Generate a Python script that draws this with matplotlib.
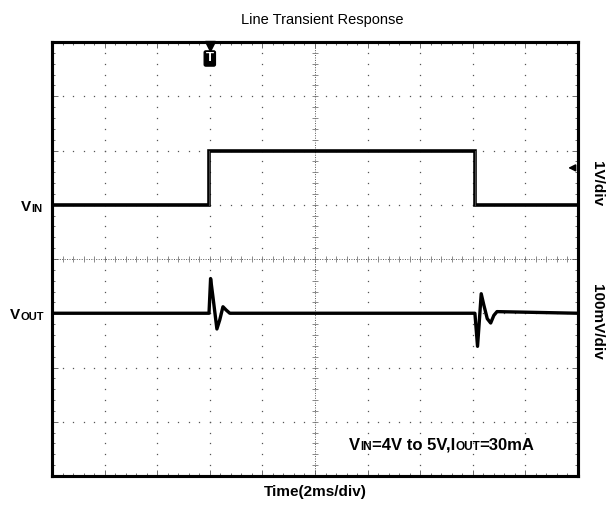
import numpy as np
import matplotlib
matplotlib.use('Agg')
import matplotlib.pyplot as plt

plt.rcParams['font.family'] = ['Liberation Sans', 'DejaVu Sans']

# scope traces (time in ms, 2 ms/div)
vin_t = [0.0, 5.97, 5.97, 16.08, 16.08, 20.0]
vin_v = [4.0, 4.0, 5.0, 5.0, 4.0, 4.0]           # V, 1 V/div

vout_t = [0.0, 5.97, 6.03, 6.12, 6.27, 6.38, 6.5, 6.62, 6.76,
          16.08, 16.18, 16.24, 16.32, 16.42, 16.55, 16.68, 16.8, 16.92, 20.0]
vout_mv = [0, 0, 64, 30, -29, -12, 12, 6, 0,
           0, -61, -20, 36, 15, -10, -18, -4, 3, 0]  # mV deviation, 100 mV/div

title = 'Line Transient Response'
xlabel = 'Time(2ms/div)'

fig = plt.figure(figsize=(6.11, 5.08), dpi=100)
ax = fig.add_axes([52 / 611, 32 / 508, 526 / 611, 434 / 508])
ax2 = ax.twinx()

ax.set_xlim(0, 20)
ax.set_ylim(-1, 7)        # 4 V sits on the 3rd grid line from the top
ax2.set_ylim(-300, 500)   # 0 mV sits on the 5th grid line from the top

# dotted graticule
for gx in np.arange(2, 20, 2):
    if gx == 10:
        continue
    ys = np.arange(-1, 7.01, 0.2)
    ax.plot([gx] * len(ys), ys, ls='none', marker='s', ms=0.9, color='#555555', mew=0)
for gy in np.arange(0, 7, 1):
    if gy == 3:
        continue
    xs = np.arange(0, 20.01, 0.4)
    ax.plot(xs, [gy] * len(xs), ls='none', marker='s', ms=0.9, color='#555555', mew=0)

# centre cross with small ticks
xs = np.arange(0, 20.01, 0.4)
ax.plot([0, 20], [3, 3], ls=(0, (1, 1.5)), lw=0.7, color='#555555')
ax.plot(xs, [3] * len(xs), ls='none', marker='|', ms=5, mew=0.6, color='#777777')
ys = np.arange(-1, 7.01, 0.2)
ax.plot([10, 10], [-1, 7], ls=(0, (1, 1.5)), lw=0.7, color='#555555')
ax.plot([10] * len(ys), ys, ls='none', marker='_', ms=5, mew=0.6, color='#777777')

# traces
ax.plot(vin_t, vin_v, color='black', lw=2.6, solid_joinstyle='miter')
ax.plot([5.97, 5.97], [4, 5], color='#444444', lw=0.8)
ax.plot([16.08, 16.08], [4, 5], color='#444444', lw=0.8)
ax2.plot(vout_t, vout_mv, color='black', lw=2.4)

# frame
ax.set_xticks(np.arange(0, 21, 2))
ax.set_xticks(np.arange(0, 20.01, 0.4), minor=True)
ax.set_yticks(np.arange(-1, 7.01, 1))
ax.set_yticks(np.arange(-1, 7.01, 0.2), minor=True)
ax.tick_params(which='both', direction='in', top=True, right=True,
               labelbottom=False, labelleft=False, color='#555555')
ax.tick_params(which='major', length=4, width=0.6)
ax.tick_params(which='minor', length=2.5, width=0.6)
ax2.set_yticks([])
for a in (ax, ax2):
    for s in a.spines.values():
        s.set_linewidth(2.2)
        s.set_color('black')

# trigger marker
ax.plot([6], [0.99], transform=ax.get_xaxis_transform(), marker='v', ms=7,
        color='black', clip_on=False)
ax.text(6, 0.962, 'T', transform=ax.get_xaxis_transform(), ha='center', va='center',
        color='white', fontsize=9.5, fontweight='bold',
        bbox=dict(boxstyle='round,pad=0.12', fc='black', ec='black'))

# channel reference arrow
ax.annotate('', xy=(0.976, 0.71), xytext=(0.999, 0.71), xycoords='axes fraction',
            arrowprops=dict(arrowstyle='-|>', color='black', lw=1.2, mutation_scale=10))


def chain(x, y, pieces, big=12, small=8.5):
    t = fig.text(x, y, pieces[0][0], fontsize=big if pieces[0][1] else small,
                 fontweight='bold', va='bottom')
    for s, is_big in pieces[1:]:
        t = ax.annotate(s, xy=(1, 0), xycoords=t, fontsize=big if is_big else small,
                        fontweight='bold', va='bottom', ha='left',
                        annotation_clip=False)
    return t


chain(21 / 611, 1 - 214 / 508, [('V', True), ('IN', False)], big=11, small=8)
chain(10 / 611, 1 - 322 / 508, [('V', True), ('OUT', False)], big=11, small=8)
chain(349 / 611, 1 - 453 / 508, [('V', True), ('IN', False), ('=4V to 5V,I', True),
                                 ('OUT', False), ('=30mA', True)])

fig.text(597 / 611, 1 - 184 / 508, '1V/div', rotation=-90, ha='center', va='center',
         fontsize=11, fontweight='bold')
fig.text(597 / 611, 1 - 322 / 508, '100mV/div', rotation=-90, ha='center', va='center',
         fontsize=11, fontweight='bold')

fig.text(322 / 611, 1 - 20 / 508, title, ha='center', va='center', fontsize=10.5)
fig.text(315 / 611, 1 - 492 / 508, xlabel, ha='center', va='center', fontsize=11,
         fontweight='bold')

fig.savefig('out.png', dpi=100)
